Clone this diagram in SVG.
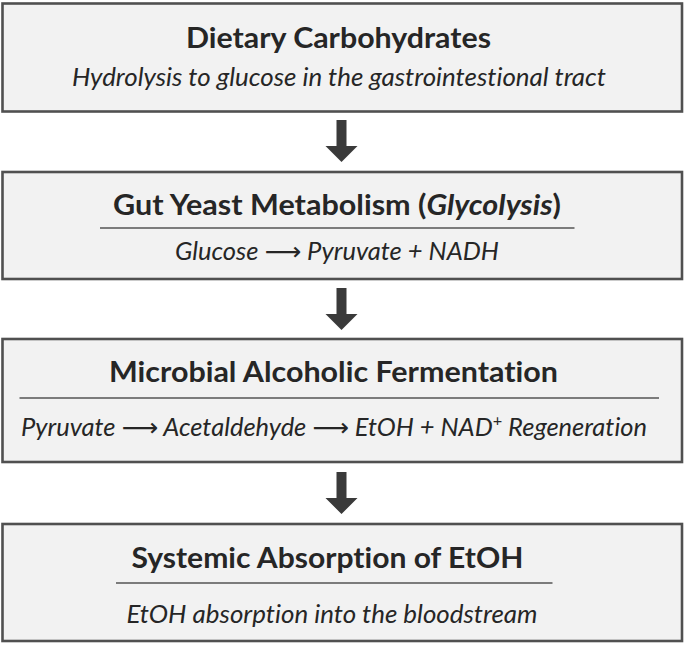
<svg xmlns="http://www.w3.org/2000/svg" width="685" height="645" viewBox="0 0 685 645">
<style>
.box{fill:#f2f2f2;stroke:#505050;stroke-width:2.6}
text{font-variant-ligatures:none}
.title{font-family:Lato,"Open Sans","DejaVu Sans",sans-serif;font-weight:bold;font-size:28px;fill:#262626}
.sub{font-family:Lato,"Open Sans","DejaVu Sans",sans-serif;font-style:italic;font-size:25px;fill:#262626}
.rule{stroke:#555;stroke-width:1.6}
.arrow{fill:#3a3a3a}
</style>
<defs>
<path id="darr" d="M-5,0 H5 V26 H16 L0,42 L-16,26 H-5 Z"/>
</defs>
<rect width="685" height="645" fill="#ffffff"/>
<g id="connectors">
<use href="#darr" class="arrow" x="341.5" y="120"/>
<use href="#darr" class="arrow" x="341.5" y="288"/>
<use href="#darr" class="arrow" x="341.5" y="472"/>
</g>
<g id="node1">
<rect class="box" x="2.5" y="3.5" width="679.5" height="108"/>
<text class="title" x="186" y="47.5" textLength="305" lengthAdjust="spacingAndGlyphs">Dietary Carbohydrates</text>
<text class="sub" x="72" y="86" textLength="534" lengthAdjust="spacingAndGlyphs">Hydrolysis to glucose in the gastrointestional tract</text>
</g>
<g id="node2">
<rect class="box" x="2.5" y="172" width="679.5" height="107"/>
<text class="title" x="113" y="215" textLength="448" lengthAdjust="spacingAndGlyphs">Gut Yeast Metabolism (<tspan font-style="italic">Glycolysis</tspan>)</text>
<line class="rule" x1="100" y1="228" x2="574.5" y2="228"/>
<text class="sub" x="175" y="260" textLength="324" lengthAdjust="spacingAndGlyphs">Glucose ⟶ Pyruvate + NADH</text>
</g>
<g id="node3">
<rect class="box" x="2.5" y="339" width="679.5" height="123"/>
<text class="title" x="109" y="381.5" textLength="449" lengthAdjust="spacingAndGlyphs">Microbial Alcoholic Fermentation</text>
<line class="rule" x1="19.5" y1="398" x2="659" y2="398"/>
<text class="sub" x="21" y="435.5" textLength="626" lengthAdjust="spacingAndGlyphs">Pyruvate ⟶ Acetaldehyde ⟶ EtOH + NAD<tspan font-size="16" dy="-10" font-style="normal">+</tspan><tspan dy="10"> Regeneration</tspan></text>
</g>
<g id="node4">
<rect class="box" x="2.5" y="524" width="679.5" height="117"/>
<text class="title" x="131.5" y="567.5" textLength="392" lengthAdjust="spacingAndGlyphs">Systemic Absorption of EtOH</text>
<line class="rule" x1="116" y1="583" x2="552.5" y2="583"/>
<text class="sub" x="126.5" y="623" textLength="411" lengthAdjust="spacingAndGlyphs">EtOH absorption into the bloodstream</text>
</g>
</svg>
